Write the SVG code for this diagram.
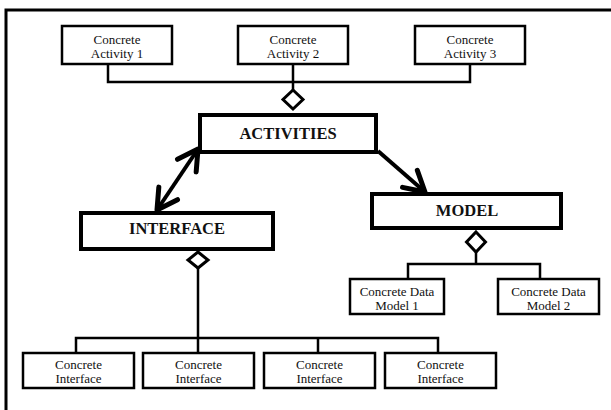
<svg xmlns="http://www.w3.org/2000/svg" width="611" height="410" viewBox="0 0 611 410">
  <style>
    .box { fill: #fff; stroke: #000; stroke-width: 2.5; }
    .main { fill: #fff; stroke: #000; stroke-width: 4; }
    .lbl { font-family: "Liberation Serif", "Times New Roman", serif; font-size: 13px; fill: #111; text-anchor: middle; }
    .head { font-family: "Liberation Serif", "Times New Roman", serif; font-size: 16.5px; font-weight: bold; fill: #111; text-anchor: middle; }
    .wire { fill: none; stroke: #000; stroke-width: 2.5; }
    .dia { fill: #fff; stroke: #000; stroke-width: 3; }
    .assoc { fill: none; stroke: #000; stroke-width: 4; }
  </style>
  <defs>
    <marker id="open" markerUnits="userSpaceOnUse" markerWidth="30" markerHeight="30" viewBox="-20 -12 24 24" refX="0" refY="0" orient="auto-start-reverse">
      <path d="M-16,-9 L0,0 L-16,9" fill="none" stroke="#000" stroke-width="4" stroke-linecap="round" stroke-linejoin="round"/>
    </marker>
  </defs>
  <rect width="611" height="410" fill="#fff"/>

  <!-- outer frame -->
  <path d="M6,410 V10 H611" fill="none" stroke="#000" stroke-width="3"/>

  <g id="connectors">
    <path class="wire" d="M108,65 V82 H470 V65 M293,65 V90"/>
    <polygon class="dia" points="293,90 303,99.5 293,109 283,99.5"/>
    <path class="wire" d="M476,252 V264 M408,278 V264 H540 V278"/>
    <polygon class="dia" points="476,232 485.5,242 476,252 466.5,242"/>
    <path class="wire" d="M198,268 V338 M76,352 V338 H438 V352 M198,338 V352 M318,338 V352"/>
    <polygon class="dia" points="198,252 208,260 198,268 188,260"/>
    <line class="assoc" x1="198" y1="149" x2="157" y2="210" marker-start="url(#open)" marker-end="url(#open)"/>
    <line class="assoc" x1="378" y1="151" x2="425" y2="192" marker-end="url(#open)"/>
  </g>

  <g id="activity1">
    <rect class="box" x="62" y="26" width="110" height="38"/>
    <text class="lbl" x="117" y="43.5">Concrete</text>
    <text class="lbl" x="117" y="57.5">Activity 1</text>
  </g>
  <g id="activity2">
    <rect class="box" x="238" y="26" width="110" height="38"/>
    <text class="lbl" x="293" y="43.5">Concrete</text>
    <text class="lbl" x="293" y="57.5">Activity 2</text>
  </g>
  <g id="activity3">
    <rect class="box" x="415" y="26" width="110" height="38"/>
    <text class="lbl" x="470" y="43.5">Concrete</text>
    <text class="lbl" x="470" y="57.5">Activity 3</text>
  </g>

  <g id="activities">
    <rect class="main" x="200" y="115" width="176" height="37"/>
    <text class="head" x="288" y="139">ACTIVITIES</text>
  </g>
  <g id="interface">
    <rect class="main" x="81" y="213" width="192" height="36"/>
    <text class="head" x="177" y="234">INTERFACE</text>
  </g>
  <g id="model">
    <rect class="main" x="372" y="194" width="189" height="34"/>
    <text class="head" x="467" y="215.5">MODEL</text>
  </g>

  <g id="datamodel1">
    <rect class="box" x="350" y="279" width="94" height="35"/>
    <text class="lbl" x="397" y="296">Concrete Data</text>
    <text class="lbl" x="397" y="310">Model 1</text>
  </g>
  <g id="datamodel2">
    <rect class="box" x="498" y="279" width="101" height="35"/>
    <text class="lbl" x="548.5" y="296">Concrete Data</text>
    <text class="lbl" x="548.5" y="310">Model 2</text>
  </g>

  <g id="interface1">
    <rect class="box" x="23" y="353" width="111" height="35"/>
    <text class="lbl" x="78.5" y="368.5">Concrete</text>
    <text class="lbl" x="78.5" y="382.5">Interface</text>
  </g>
  <g id="interface2">
    <rect class="box" x="143" y="353" width="111" height="35"/>
    <text class="lbl" x="198.5" y="368.5">Concrete</text>
    <text class="lbl" x="198.5" y="382.5">Interface</text>
  </g>
  <g id="interface3">
    <rect class="box" x="264" y="353" width="111" height="35"/>
    <text class="lbl" x="319.5" y="368.5">Concrete</text>
    <text class="lbl" x="319.5" y="382.5">Interface</text>
  </g>
  <g id="interface4">
    <rect class="box" x="385" y="353" width="111" height="35"/>
    <text class="lbl" x="440.5" y="368.5">Concrete</text>
    <text class="lbl" x="440.5" y="382.5">Interface</text>
  </g>
</svg>
